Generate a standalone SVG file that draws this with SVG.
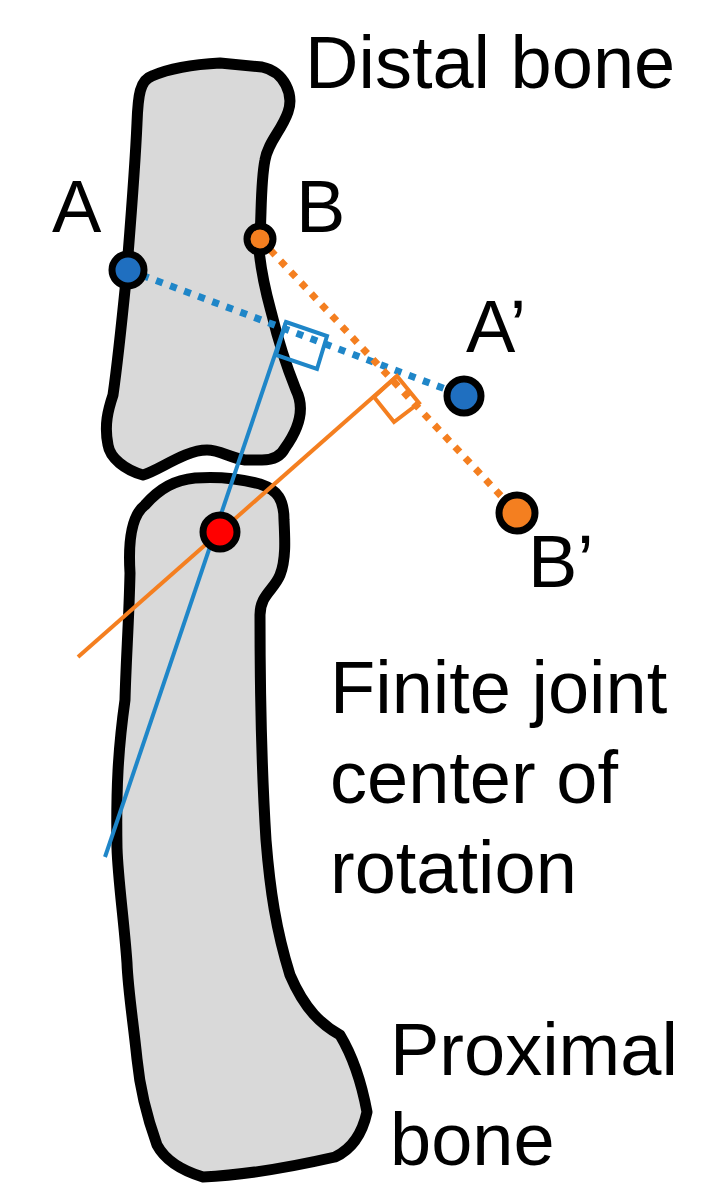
<svg xmlns="http://www.w3.org/2000/svg" width="722" height="1197" viewBox="0 0 722 1197">
<style>
.bone{fill:#d9d9d9;stroke:#000;stroke-width:11;stroke-linejoin:round}
.t{font-family:"Liberation Sans",Arial,sans-serif;font-size:74px;fill:#000}
.pt{stroke:#000;stroke-width:7}
</style>
<rect width="722" height="1197" fill="#fff"/>
<g id="distal"><path class="bone" d="M137,123 C138,95 140,80 152,76 C175,66 200,64 220,63 L262,67 C285,72 294,95 288,112 C282,130 268,142 265,160 C260,185 262,220 259,250 C262,280 268,300 272,315 C278,340 288,370 296,390 C306,410 298,430 285,448 C280,458 270,460 262,460 L245,460 C230,458 220,450 207,450 C185,450 160,470 143,475 C125,470 110,458 108,445 C104,425 108,410 113,395 C118,360 122,320 126,280 C130,230 135,170 137,123 Z"/></g>
<g id="proximal"><path class="bone" d="M130,573 C128,540 132,515 145,505 C160,488 175,480 195,478 C220,476 245,480 260,484 C278,490 284,500 284,520 C285,540 286,560 280,575 C274,590 260,595 260,615 C260,680 261,760 266,840 C270,890 276,930 290,975 C305,1010 322,1025 340,1035 C355,1060 362,1085 367,1112 C362,1135 350,1150 335,1157 C300,1165 250,1175 203,1177 C180,1170 165,1160 157,1145 C148,1120 140,1090 137,1059 C133,1020 128,990 127,963 C124,920 118,880 117,848 C116,790 118,750 125,700 C126,660 129,620 130,573 Z"/></g>
<g id="connectors" fill="none">
<line x1="128" y1="270" x2="464" y2="396" stroke="#1f86c8" stroke-width="7" stroke-dasharray="7,8"/>
<line x1="260" y1="239" x2="517" y2="513" stroke="#f47f20" stroke-width="7" stroke-dasharray="7,8"/>
<line x1="105" y1="857" x2="286" y2="322" stroke="#1f86c8" stroke-width="4"/>
<line x1="78" y1="657" x2="397" y2="376" stroke="#f47f20" stroke-width="4"/>
<path d="M286,322 L327,336 L317,369 L276,355 Z" stroke="#1f86c8" stroke-width="4"/>
<path d="M397,376 L419,403 L394,422 L374,397 Z" stroke="#f47f20" stroke-width="4"/>
</g>
<g id="points">
<circle class="pt" cx="128" cy="270" r="16" fill="#1f6fc0"/>
<circle class="pt" cx="260" cy="239" r="13" fill="#f47f20"/>
<circle class="pt" cx="464" cy="396" r="17" fill="#1f6fc0"/>
<circle class="pt" cx="517" cy="513" r="18" fill="#f47f20"/>
<circle class="pt" cx="220" cy="532" r="17" fill="#ff0000"/>
</g>
<g id="labels">
<text class="t" x="305" y="88">Distal bone</text>
<text class="t" x="52" y="232">A</text>
<text class="t" x="296" y="232">B</text>
<text class="t" x="466" y="352">A’</text>
<text class="t" x="528" y="587">B’</text>
<text class="t" x="330" y="713">Finite joint</text>
<text class="t" x="330" y="803">center of</text>
<text class="t" x="330" y="893">rotation</text>
<text class="t" x="390" y="1075">Proximal</text>
<text class="t" x="390" y="1165">bone</text>
</g>
</svg>
